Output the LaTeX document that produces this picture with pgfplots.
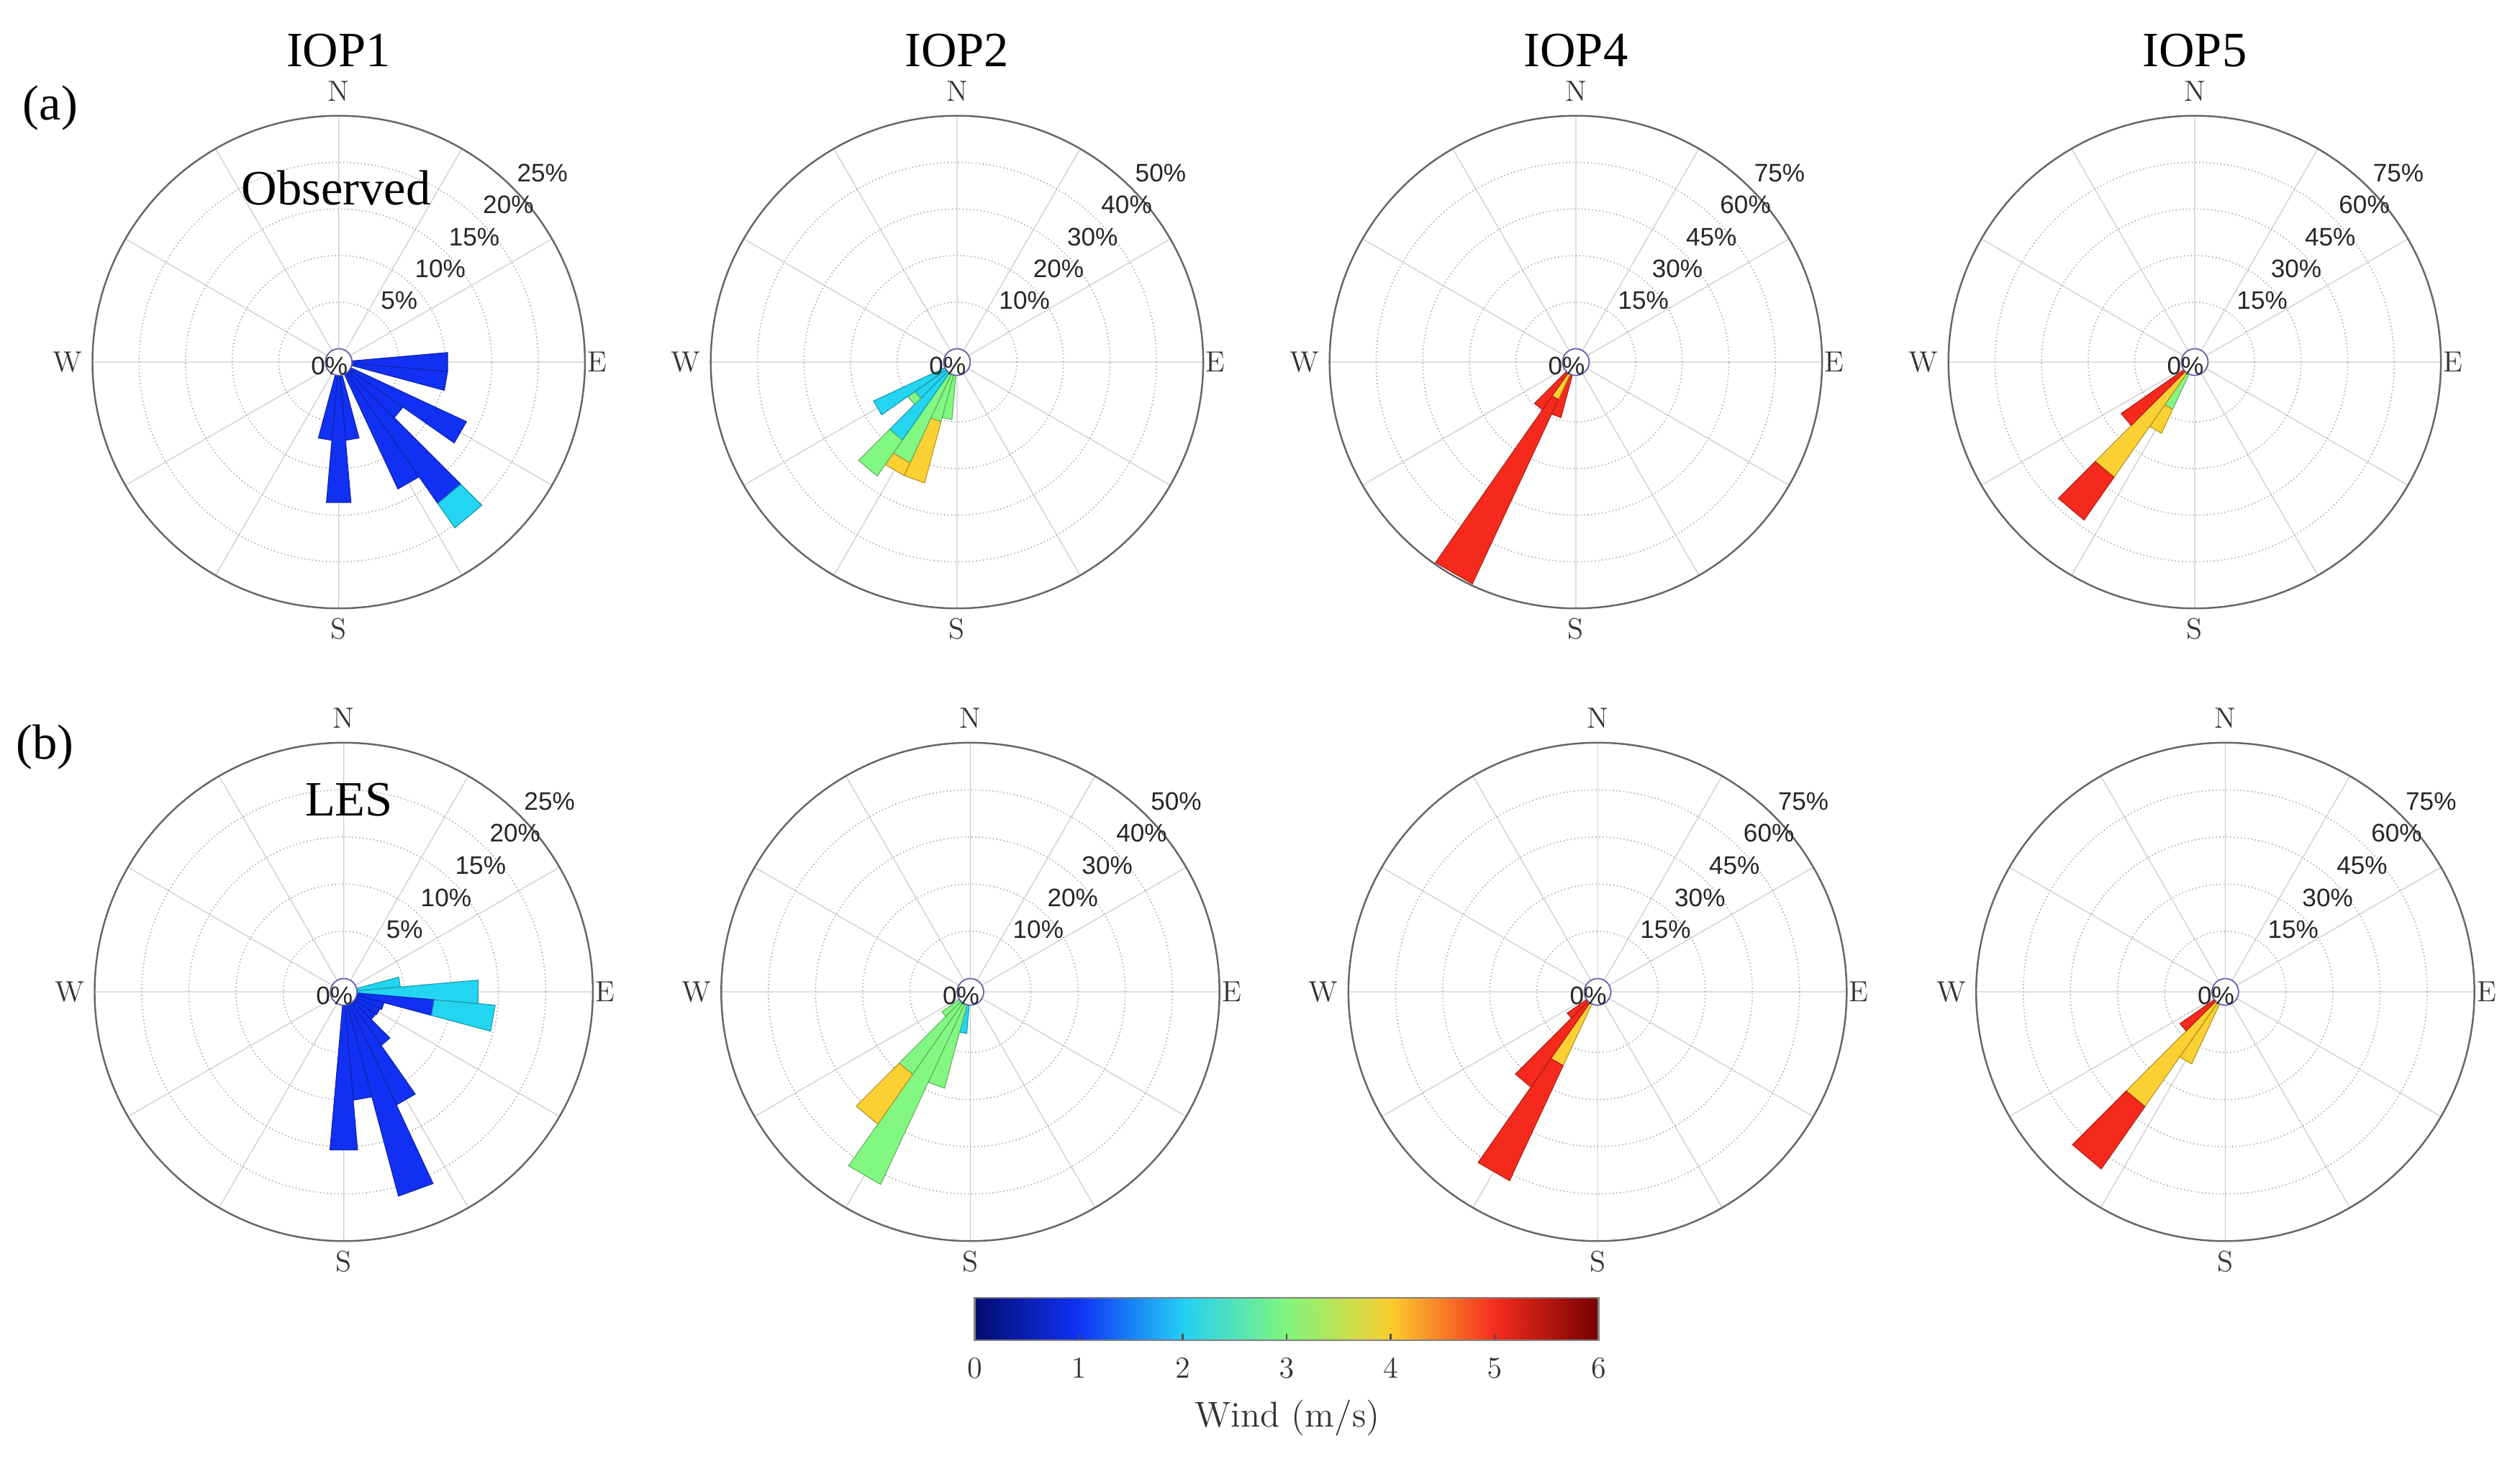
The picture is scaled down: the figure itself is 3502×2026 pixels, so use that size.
\documentclass[border=0pt]{standalone}
\usepackage{pgfplots}
\pgfplotsset{compat=1.18}
\usepgfplotslibrary{polar}
\usepackage{fontspec}
\newfontfamily\tnr{Liberation Serif}
\newfontfamily\hel{Liberation Sans}

\definecolor{wblue}{RGB}{17,48,243}
\definecolor{wcyan}{RGB}{35,213,240}
\definecolor{wgreen}{RGB}{130,248,130}
\definecolor{wyellow}{RGB}{250,208,50}
\definecolor{wred}{RGB}{245,42,28}
\definecolor{holec}{RGB}{95,95,170}

\pgfplotsset{
  colormap={windjet}{rgb255(0cm)=(4,12,112); rgb255(1cm)=(15,50,245); rgb255(2cm)=(35,207,245);
    rgb255(3cm)=(128,246,125); rgb255(4cm)=(250,205,45); rgb255(5cm)=(245,45,30); rgb255(6cm)=(118,0,0)},
  rose/.style={scale only axis, anchor=center, xmin=0, xmax=360, ymin=0,
    xtick={0,30,...,330}, xticklabel=\empty, yticklabel=\empty, major tick length=0pt,
    grid=major, x grid style={gray!40,line width=0.35pt},
    y grid style={gray!70,densely dotted,line width=0.45pt},
    axis line style={black!60,line width=0.7pt}, y axis line style={draw=none},
    x filter/.expression={90-x}},
  rose25/.style={rose, ymax=26.43, ytick={6.43,11.43,16.43,21.43}, y filter/.expression={y+1.43}},
  rose50/.style={rose, ymax=52.86, ytick={12.86,22.86,32.86,42.86}, y filter/.expression={y+2.86}},
  rose75/.style={rose, ymax=79.29, ytick={19.29,34.29,49.29,64.29}, y filter/.expression={y+4.29}},
  rowa/.style={width=6.84cm, height=6.84cm},
  rowb/.style={width=6.92cm, height=6.92cm},
}

% one stacked piece of a bar: colour, from dir, to dir (deg from N), inner %, outer %
\newcommand{\seg}[5]{\addplot[fill=#1,draw=#1!70!black,line width=0.3pt] coordinates {(#2,#4) (#2,#5) (#3,#5) (#3,#4)} -- cycle;}

\tikzset{
  pct/.style={font=\hel\fontsize{10}{11}\selectfont, text=black!85, inner sep=0pt},
  cmp/.style={font=\fontsize{11.5}{13}\selectfont, text=black!80, inner sep=0pt},
  ttl/.style={font=\tnr\fontsize{19.5}{23}\selectfont, inner sep=0pt},
}

% cx, cy, outer radius, ring step in %
\newcommand{\rosedeco}[4]{%
  \pgfmathsetmacro{\rs}{(#3-18.5)/5}
  \foreach \k in {1,...,5}{%
    \pgfmathsetmacro{\rr}{18.5+\k*\rs}
    \pgfmathtruncatemacro{\val}{\k*#4}
    \node[pct,anchor=west] at ({#1+\rr*cos(43)-3},{#2+\rr*sin(43)+29}) {\val\%};
  }
  \draw[draw=holec,fill=white,line width=0.5pt] (#1,#2) circle [radius=18.5];
  \node[pct] at ({#1-13},{#2-5}) {0\%};
  \node[cmp,anchor=south] at ({#1},{#2+#3+20}) {N};
  \node[cmp,anchor=north] at ({#1},{#2-#3-13}) {S};
  \node[cmp,anchor=west] at ({#1+#3+3},{#2}) {E};
  \node[cmp,anchor=east] at ({#1-#3-14},{#2}) {W};
}

\begin{document}
\begin{tikzpicture}[x=0.01cm,y=0.01cm]
\useasboundingbox (0,0) rectangle (3502,-2026);
\coordinate (a1) at (470.7,-503);
\coordinate (a2) at (1329.9,-503);
\coordinate (a3) at (2189.9,-503);
\coordinate (a4) at (3049.9,-503);
\coordinate (b1) at (477.7,-1378);
\coordinate (b2) at (1348.5,-1378);
\coordinate (b3) at (2220.1,-1378);
\coordinate (b4) at (3092.4,-1378);
\coordinate (cb) at (1354.5,-1861.7);

% ---- (a) observed ----
\begin{polaraxis}[rose25,rowa,at={(a1)}]
\seg{wblue}{85}{95}{0}{10.3}
\seg{wblue}{95}{105}{0}{10.3}
\seg{wblue}{115}{125}{0}{13.7}
\seg{wblue}{125}{135}{0}{7.0}
\seg{wblue}{135}{145}{0}{17.1}
\seg{wcyan}{135}{145}{17.1}{20.3}
\seg{wblue}{145}{155}{0}{13.6}
\seg{wblue}{165}{175}{0}{7.0}
\seg{wblue}{175}{185}{0}{13.7}
\seg{wblue}{185}{195}{0}{7.0}
\end{polaraxis}

\begin{polaraxis}[rose50,rowa,at={(a2)}]
\seg{wgreen}{185}{195}{0}{9.5}
\seg{wgreen}{195}{205}{0}{10.4}
\seg{wyellow}{195}{205}{10.4}{24.0}
\seg{wgreen}{205}{215}{0}{21.0}
\seg{wyellow}{205}{215}{21.0}{24.0}
\seg{wcyan}{215}{225}{0}{17.6}
\seg{wgreen}{215}{225}{17.6}{27.0}
\seg{wcyan}{225}{235}{0}{8.2}
\seg{wgreen}{225}{235}{8.2}{10.0}
\seg{wcyan}{235}{245}{0}{16.9}
\end{polaraxis}

\begin{polaraxis}[rose75,rowa,at={(a3)}]
\seg{wred}{195}{205}{0}{14.2}
\seg{wyellow}{205}{215}{0}{9.0}
\seg{wred}{205}{215}{9.0}{74.5}
\seg{wred}{215}{225}{0}{14.5}
\end{polaraxis}

\begin{polaraxis}[rose75,rowa,at={(a4)}]
\seg{wgreen}{205}{215}{0}{12.5}
\seg{wyellow}{205}{215}{12.5}{21.0}
\seg{wyellow}{215}{225}{0}{41.0}
\seg{wred}{215}{225}{41.0}{57.8}
\seg{wred}{225}{235}{0}{24.6}
\end{polaraxis}

% ---- (b) LES ----
\begin{polaraxis}[rose25,rowb,at={(b1)}]
\seg{wcyan}{75}{85}{0}{4.6}
\seg{wcyan}{85}{95}{0}{12.9}
\seg{wblue}{95}{105}{0}{8.2}
\seg{wcyan}{95}{105}{8.2}{14.7}
\seg{wblue}{105}{115}{0}{3.0}
\seg{wblue}{115}{125}{0}{2.8}
\seg{wblue}{125}{135}{0}{2.7}
\seg{wblue}{135}{145}{0}{5.5}
\seg{wblue}{145}{155}{0}{11.8}
\seg{wblue}{155}{165}{0}{21.0}
\seg{wblue}{165}{175}{0}{10.1}
\seg{wblue}{175}{185}{0}{15.4}
\end{polaraxis}

\begin{polaraxis}[rose50,rowb,at={(b2)}]
\seg{wcyan}{185}{195}{0}{6.0}
\seg{wgreen}{195}{205}{0}{18.3}
\seg{wgreen}{205}{215}{0}{42.2}
\seg{wgreen}{215}{225}{0}{18.5}
\seg{wyellow}{215}{225}{18.5}{31.4}
\seg{wgreen}{225}{235}{0}{4.5}
\end{polaraxis}

\begin{polaraxis}[rose75,rowb,at={(b3)}]
\seg{wyellow}{205}{215}{0}{21.6}
\seg{wred}{205}{215}{21.6}{62.0}
\seg{wred}{215}{225}{0}{32.7}
\seg{wred}{225}{235}{0}{7.5}
\end{polaraxis}

\begin{polaraxis}[rose75,rowb,at={(b4)}]
\seg{wyellow}{205}{215}{0}{21.0}
\seg{wyellow}{215}{225}{0}{40.3}
\seg{wred}{215}{225}{40.3}{64.5}
\seg{wred}{225}{235}{0}{13.3}
\end{polaraxis}

\rosedeco{470.7}{-503}{342}{5}
\rosedeco{1329.9}{-503}{342}{10}
\rosedeco{2189.9}{-503}{342}{15}
\rosedeco{3049.9}{-503}{342}{15}
\rosedeco{477.7}{-1378}{346}{5}
\rosedeco{1348.5}{-1378}{346}{10}
\rosedeco{2220.1}{-1378}{346}{15}
\rosedeco{3092.4}{-1378}{346}{15}

% titles and panel labels
\node[ttl,anchor=base] at (470.5,-92) {IOP1};
\node[ttl,anchor=base] at (1329.9,-92) {IOP2};
\node[ttl,anchor=base] at (2189.9,-92) {IOP4};
\node[ttl,anchor=base] at (3049.9,-92) {IOP5};
\node[ttl] at (70,-150) {(a)};
\node[ttl] at (62.5,-1038) {(b)};
\node[ttl,anchor=base] at (467,-284) {Observed};
\node[ttl,anchor=base] at (485,-1133) {LES};

% colour bar
\begin{axis}[at={(cb)}, anchor=south west, scale only axis,
  width=8.665cm, height=0.584cm, xmin=0, xmax=6, ymin=0, ymax=1,
  enlargelimits=false, axis on top, colormap name=windjet,
  xtick={0,1,...,6}, ytick=\empty, xtick pos=left, tick align=inside,
  major tick length=0.09cm, tick style={black!70,line width=0.6pt},
  axis line style={black!50,line width=0.6pt},
  xticklabel shift=0.13cm,
  xticklabel style={font=\fontsize{13}{15}\selectfont, text=black!80}]
\addplot[surf, shader=interp, point meta=x, mesh/rows=2] coordinates {
  (0,0) (1,0) (2,0) (3,0) (4,0) (5,0) (6,0)
  (0,1) (1,1) (2,1) (3,1) (4,1) (5,1) (6,1)};
\end{axis}
\node[font=\fontsize{14.2}{16}\selectfont, text=black!80, anchor=base, inner sep=0pt] at (1789,-1982) {Wind (m/s)};
\end{tikzpicture}
\end{document}
